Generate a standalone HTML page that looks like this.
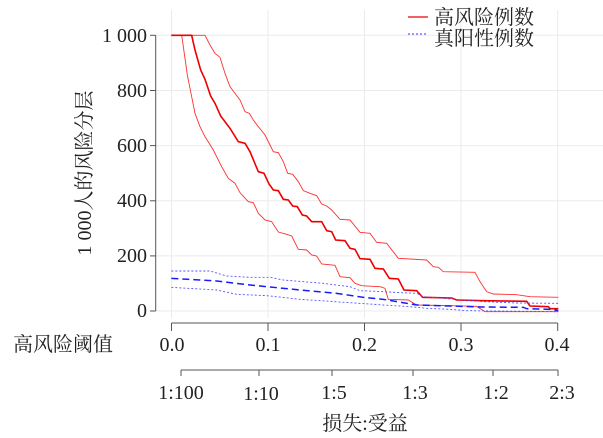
<!DOCTYPE html>
<html><head><meta charset="utf-8"><style>
html,body{margin:0;padding:0;background:#fff;}
svg{display:block;}
text{font-family:"Liberation Serif","Noto Serif CJK SC",serif;fill:#222;}
</style></head><body>
<svg width="603" height="438" viewBox="0 0 603 438" xmlns="http://www.w3.org/2000/svg">
<g stroke="#ebebeb" stroke-width="1">
<line x1="156" y1="35.3" x2="603" y2="35.3"/><line x1="156" y1="90.5" x2="603" y2="90.5"/>
<line x1="156" y1="145.6" x2="603" y2="145.6"/><line x1="156" y1="200.8" x2="603" y2="200.8"/>
<line x1="156" y1="255.9" x2="603" y2="255.9"/><line x1="156" y1="311" x2="603" y2="311"/>
<line x1="171.5" y1="10" x2="171.5" y2="318"/><line x1="268" y1="10" x2="268" y2="318"/>
<line x1="364.5" y1="10" x2="364.5" y2="318"/><line x1="461" y1="10" x2="461" y2="318"/>
<line x1="557.7" y1="10" x2="557.7" y2="318"/>
</g>
<g stroke="#555" stroke-width="1" fill="none">
<line x1="155.7" y1="35.3" x2="155.7" y2="311"/>
<line x1="150" y1="35.3" x2="155.7" y2="35.3"/><line x1="150" y1="90.5" x2="155.7" y2="90.5"/>
<line x1="150" y1="145.6" x2="155.7" y2="145.6"/><line x1="150" y1="200.8" x2="155.7" y2="200.8"/>
<line x1="150" y1="255.9" x2="155.7" y2="255.9"/><line x1="150" y1="311" x2="155.7" y2="311"/>
<line x1="171.5" y1="323" x2="557.7" y2="323"/>
<line x1="171.5" y1="323" x2="171.5" y2="331"/><line x1="268" y1="323" x2="268" y2="331"/>
<line x1="364.5" y1="323" x2="364.5" y2="331"/><line x1="461" y1="323" x2="461" y2="331"/>
<line x1="557.7" y1="323" x2="557.7" y2="331"/>
<line x1="181" y1="370" x2="558" y2="370"/>
<line x1="181" y1="370" x2="181" y2="376"/><line x1="259" y1="370" x2="259" y2="376"/>
<line x1="332" y1="370" x2="332" y2="376"/><line x1="413" y1="370" x2="413" y2="376"/>
<line x1="493" y1="370" x2="493" y2="376"/><line x1="558" y1="370" x2="558" y2="376"/>
</g>
<g font-size="20" text-anchor="end">
<text x="147" y="42">1 000</text><text x="147" y="97">800</text><text x="147" y="152">600</text>
<text x="147" y="207">400</text><text x="147" y="262">200</text><text x="147" y="317">0</text>
</g>
<text transform="translate(91,173) rotate(-90)" font-size="20" text-anchor="middle">1 000人的风险分层</text>
<g font-size="20" text-anchor="middle">
<text x="172" y="351">0.0</text><text x="268" y="351">0.1</text><text x="364.5" y="351">0.2</text>
<text x="461" y="351">0.3</text><text x="557" y="351">0.4</text>
<text x="181" y="399">1:100</text><text x="261" y="400">1:10</text><text x="334" y="399">1:5</text>
<text x="415" y="399">1:3</text><text x="496" y="399">1:2</text><text x="562" y="399">2:3</text>
<text x="365" y="430">损失:受益</text>
</g>
<text x="13" y="351" font-size="20">高风险阈值</text>
<line x1="408" y1="17" x2="428" y2="17" stroke="#e00" stroke-width="1.2"/>
<line x1="408" y1="34" x2="428" y2="34" stroke="#33f" stroke-width="1" stroke-dasharray="2,2"/>
<text x="434" y="24" font-size="20">高风险例数</text>
<text x="434" y="45" font-size="20">真阳性例数</text>
<g transform="translate(150,20) scale(0.33333)" fill="none">
<polyline vector-effect="non-scaling-stroke" stroke="#ff3030" stroke-width="0.9" points="64,46 165,46 180,75 195,100 210,112 225,160 240,200 255,220 270,240 285,275 298,280 310,300 325,320 345,345 360,375 370,395 385,398 400,425 413,460 428,463 445,485 460,512 480,520 500,527 515,552 530,558 545,570 570,598 600,600 630,637 660,640 680,667 710,670 745,715 830,720 850,740 865,742 880,755 975,757 990,785 1010,815 1030,822 1100,824 1140,830 1225,832"/>
<polyline vector-effect="non-scaling-stroke" stroke="#ff3030" stroke-width="0.9" points="64,46 95,46 100,80 112,165 125,230 135,280 150,320 165,350 190,390 215,440 235,475 255,490 270,518 295,545 310,548 325,580 345,600 365,605 385,636 410,643 425,648 445,688 470,690 485,705 500,708 515,732 555,736 570,770 600,773 615,790 635,797 690,800 705,805 715,838 775,840 800,855 900,857 980,859 1005,875 1225,875"/>
<polyline vector-effect="non-scaling-stroke" stroke="#ee0000" stroke-width="1.6" points="64,46 125,46 135,90 152,150 165,178 182,228 195,250 212,288 240,325 265,365 285,370 300,395 325,455 342,460 357,492 370,510 385,512 400,538 415,540 428,558 442,560 457,585 470,588 485,605 515,605 530,632 545,635 557,660 585,662 600,685 615,688 630,716 660,718 675,745 700,747 718,775 745,777 762,810 800,812 818,832 905,834 920,840 1000,842 1130,844 1140,858 1195,860 1200,866 1225,866"/>
<polyline vector-effect="non-scaling-stroke" stroke="#5555ff" stroke-width="0.9" stroke-dasharray="2,2" points="64,753 180,753 230,768 300,772 360,772 400,780 520,790 600,800 630,812 700,815 750,818 800,820 820,830 940,840 1000,845 1100,849 1225,850"/>
<polyline vector-effect="non-scaling-stroke" stroke="#5555ff" stroke-width="0.9" stroke-dasharray="2,2" points="64,802 200,810 260,823 350,827 450,838 600,848 700,855 780,860 830,865 900,868 950,872 1225,875"/>
<polyline vector-effect="non-scaling-stroke" stroke="#1a1aff" stroke-width="1.5" stroke-dasharray="7,4" points="64,775 150,780 200,783 300,795 450,810 560,820 640,832 700,838 800,855 900,858 1000,861 1120,862 1130,866 1200,868 1225,872"/>
</g>
</svg>
</body></html>
